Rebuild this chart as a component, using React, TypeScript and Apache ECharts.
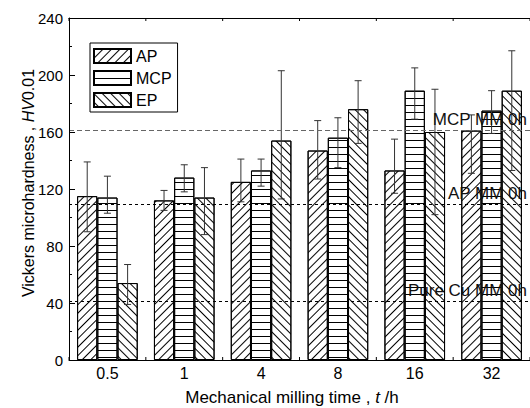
import React, { useEffect, useRef } from "react";
import * as echarts from "echarts";

const categories = ["0.5", "1", "4", "8", "16", "32"];
const seriesNames = ["AP", "MCP", "EP"];
const apValues = [115, 112, 125, 147, 133, 161];
const apLow = [90, 105, 111, 127, 117, 131];
const apHigh = [139, 119, 141, 168, 155, 172];
const mcpValues = [114, 128, 133, 156, 189, 175];
const mcpLow = [103, 118, 122, 135, 169, 159];
const mcpHigh = [129, 137, 141, 170, 205, 189];
const epValues = [54, 114, 154, 176, 160, 189];
const epLow = [39, 88, 113, 152, 102, 133];
const epHigh = [67, 135, 203, 196, 190, 217];
const refNames = ["MCP MM 0h", "AP MM 0h", "Pure Cu MM 0h"];
const refValues = [161, 109, 41];
const yTicks = [0, 40, 80, 120, 160, 200, 240];

const FONT = "'Liberation Sans', Arial, sans-serif";
const BAR_RATIO = 0.263;

export default function App() {
  const ref = useRef<HTMLDivElement>(null);
  useEffect(() => {
    if (!ref.current) return;
    const chart = echarts.init(ref.current, null, { renderer: "svg" });
    const values = [apValues, mcpValues, epValues];
    const lows = [apLow, mcpLow, epLow];
    const highs = [apHigh, mcpHigh, epHigh];
    const decals = [
      { symbol: "rect", symbolSize: 1, dashArrayX: [1, 0], dashArrayY: [1, 5], rotation: -Math.PI / 4, color: "#000" },
      { symbol: "rect", symbolSize: 1, dashArrayX: [1, 0], dashArrayY: [1, 6], rotation: 0, color: "#000" },
      { symbol: "rect", symbolSize: 1, dashArrayX: [1, 0], dashArrayY: [1, 5], rotation: Math.PI / 4, color: "#000" },
    ];
    const errData: number[][] = [];
    for (let k = 0; k < 3; k++) {
      for (let i = 0; i < categories.length; i++) {
        errData.push([i, lows[k][i], highs[k][i], k]);
      }
    }
    const barSeries = seriesNames.map((name, k) => ({
      name,
      type: "bar",
      data: values[k],
      barWidth: BAR_RATIO * 100 + "%",
      barGap: "0%",
      z: 2,
      itemStyle: {
        color: "#fff",
        borderColor: "#000",
        borderWidth: 1,
        decal: decals[k],
      },
    }));
    const option: any = {
      animation: false,
      backgroundColor: "#fff",
      textStyle: { fontFamily: FONT },
      grid: { left: 69, top: 18, width: 468, height: 342, containLabel: false },
      legend: {
        data: seriesNames,
        orient: "vertical",
        left: 90,
        top: 43,
        borderColor: "#000",
        borderWidth: 1,
        borderRadius: 0,
        padding: [5, 6, 4, 3],
        itemGap: 6,
        itemWidth: 37,
        itemHeight: 14,
        icon: "rect",
        textStyle: { fontSize: 16, color: "#000", fontFamily: FONT },
      },
      xAxis: [
        {
          type: "category",
          data: categories,
          position: "bottom",
          z: 10,
          axisLine: { lineStyle: { color: "#000", width: 1 } },
          axisTick: { inside: true, alignWithLabel: true, length: 6, lineStyle: { color: "#000" } },
          axisLabel: { fontSize: 16, color: "#000", margin: 5, fontFamily: FONT },
          splitLine: { show: false },
        },
        {
          type: "category",
          data: categories,
          position: "top",
          z: 10,
          axisLine: { lineStyle: { color: "#000", width: 1 } },
          axisTick: { inside: true, alignWithLabel: true, length: 7, lineStyle: { color: "#000" } },
          axisLabel: { show: false },
          splitLine: { show: false },
        },
      ],
      yAxis: {
        type: "value",
        min: 0,
        max: 240,
        interval: 40,
        z: 10,
        axisLine: { show: true, lineStyle: { color: "#000", width: 1 } },
        axisTick: { show: true, inside: true, length: 6, lineStyle: { color: "#000" } },
        minorTick: { show: true, splitNumber: 2, length: 3, lineStyle: { color: "#000" } },
        axisLabel: {
          fontSize: 15,
          color: "#000",
          margin: 6,
          fontFamily: FONT,
          formatter: (v: number) => (yTicks.includes(v) ? String(v) : ""),
        },
        splitLine: { show: false },
      },
      graphic: [
        {
          type: "text",
          x: 292,
          y: 397,
          style: {
            text: "Mechanical milling time , {i|t} /h",
            font: "17px " + FONT,
            fill: "#000",
            align: "center",
            verticalAlign: "middle",
            rich: { i: { fontStyle: "italic", fontSize: 17, fontFamily: FONT } },
          },
        },
        {
          type: "text",
          x: 28,
          y: 183,
          rotation: Math.PI / 2,
          style: {
            text: "Vickers microhardness , {i|HV}0.01",
            font: "16px " + FONT,
            fill: "#000",
            align: "center",
            verticalAlign: "middle",
            rich: { i: { fontStyle: "italic", fontSize: 16, fontFamily: FONT } },
          },
        },
      ],
      series: [
        ...barSeries,
        {
          type: "custom",
          name: "boundaryTicks",
          z: 11,
          silent: true,
          data: categories.map((_, i) => [i]).concat([[categories.length]]),
          encode: { x: 0 },
          renderItem: (params: any, api: any) => {
            const i = api.value(0);
            const band = api.size([1, 0])[0];
            const p0 = api.coord([0, 0]);
            const x = p0[0] - band / 2 + i * band;
            const yb = api.coord([0, 0])[1];
            const yt = api.coord([0, 240])[1];
            return {
              type: "group",
              children: [
                { type: "line", shape: { x1: x, y1: yb, x2: x, y2: yb - 3 }, style: { stroke: "#000", lineWidth: 1 } },
                { type: "line", shape: { x1: x, y1: yt, x2: x, y2: yt + 3 }, style: { stroke: "#000", lineWidth: 1 } },
              ],
            };
          },
        },
        {
          type: "custom",
          name: "errors",
          z: 5,
          silent: true,
          data: errData,
          encode: { x: 0, y: [1, 2] },
          renderItem: (params: any, api: any) => {
            const i = api.value(0);
            const k = api.value(3);
            const band = api.size([1, 0])[0];
            const c = api.coord([i, api.value(1)]);
            const t = api.coord([i, api.value(2)]);
            const x = c[0] + (k - 1) * band * BAR_RATIO;
            const cap = 3.5;
            const st = { stroke: "#333", lineWidth: 1 };
            return {
              type: "group",
              children: [
                { type: "line", shape: { x1: x, y1: c[1], x2: x, y2: t[1] }, style: st },
                { type: "line", shape: { x1: x - cap, y1: c[1], x2: x + cap, y2: c[1] }, style: st },
                { type: "line", shape: { x1: x - cap, y1: t[1], x2: x + cap, y2: t[1] }, style: st },
              ],
            };
          },
          markLine: {
            silent: true,
            symbol: ["none", "none"],
            z: 6,
            label: {
              show: true,
              position: "insideEndTop",
              formatter: "{b}",
              fontSize: 17,
              color: "#111",
              fontFamily: FONT,
              distance: 3,
            },
            lineStyle: { color: "#000", type: [3, 3], width: 1 },
            data: refValues.map((v, j) => ({
              yAxis: v,
              name: refNames[j],
              lineStyle: j === 0 ? { color: "#666", type: [5, 3], width: 1 } : { color: "#000", type: [3, 3], width: 1 },
            })),
          },
        },
      ],
    };
    chart.setOption(option);
    return () => chart.dispose();
  }, []);
  return (
    <div
      ref={ref}
      style={{ position: "absolute", left: 0, top: 0, width: 530, height: 408, overflow: "hidden" }}
    />
  );
}
